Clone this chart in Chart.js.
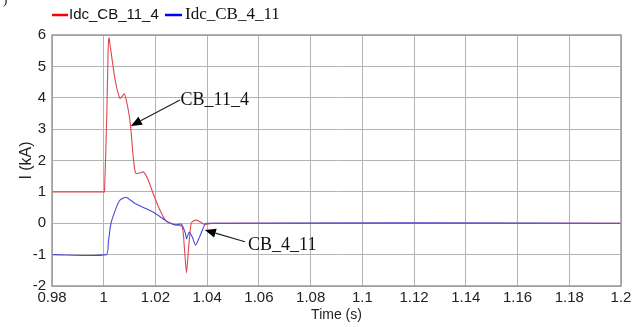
<!DOCTYPE html>
<html>
<head>
<meta charset="utf-8">
<script src="https://cdn.jsdelivr.net/npm/chart.js@4"></script>
<style>
  html, body { margin: 0; padding: 0; background: #fff; }
  #wrap { width: 644px; height: 327px; position: relative; }
</style>
</head>
<body>
<div id="wrap"><canvas id="chart"></canvas></div>
<script>
// Idc_CB_11_4 (red)
const redTime = [0.98, 1.0, 1.0003, 1.0012, 1.0017, 1.002, 1.0026, 1.0044, 1.0063, 1.008, 1.0095, 1.0104, 1.0114, 1.0123, 1.014, 1.0153, 1.0172, 1.0191, 1.0217, 1.0243, 1.0275, 1.0303, 1.0312, 1.032, 1.0328, 1.0338, 1.0348, 1.0358, 1.0372, 1.0385, 1.040, 1.042, 1.2];
const redVal  = [1, 1, 1, 3.5, 5.5, 5.91, 5.6, 4.57, 3.98, 4.12, 3.61, 3.08, 2.12, 1.6, 1.6, 1.64, 1.38, 0.95, 0.42, 0.05, -0.05, -0.1, -0.8, -1.58, -0.8, 0.0, 0.08, 0.1, 0.05, -0.02, -0.03, 0, 0];

// Idc_CB_4_11 (blue)
const blueTime = [0.98, 1.001, 1.0018, 1.0028, 1.005, 1.0063, 1.0086, 1.012, 1.016, 1.0198, 1.0237, 1.0275, 1.030, 1.0315, 1.032, 1.033, 1.0343, 1.0355, 1.037, 1.0385, 1.0396, 1.2];
const blueVal  = [-1, -1, -0.6, 0, 0.53, 0.74, 0.83, 0.64, 0.48, 0.32, 0.1, -0.05, -0.03, -0.3, -0.5, -0.29, -0.45, -0.7, -0.45, -0.15, 0, 0];

const xTicks = [0.98, 1.0, 1.02, 1.04, 1.06, 1.08, 1.1, 1.12, 1.14, 1.16, 1.18, 1.2];
const yTicks = [-2, -1, 0, 1, 2, 3, 4, 5, 6];

const seriesNames = ['Idc_CB_11_4', 'Idc_CB_4_11'];

// annotations: [label, textX, textY, tailX, tailY, tipX, tipY] in data units
const notes = [
    ['CB_11_4', 1.0297, 3.93, 1.0295, 3.93, 1.0105, 3.1],
    ['CB_4_11', 1.0558, -0.69, 1.0546, -0.59, 1.0391, -0.215]
];

const toPts = (ts, vs) => ts.map((t, i) => ({ x: t, y: vs[i] }));

const framePlugin = {
    id: 'frame',
    afterDraw(chart) {
        const ctx = chart.ctx;
        const a = chart.chartArea;
        const xs = chart.scales.x, ys = chart.scales.y;
        ctx.save();
        // frame
        ctx.strokeStyle = '#9a9a9a';
        ctx.lineWidth = 1.5;
        ctx.strokeRect(a.left, a.top, a.right - a.left, a.bottom - a.top);

        // legend
        ctx.lineWidth = 2.5;
        ctx.strokeStyle = '#ff0000';
        ctx.beginPath(); ctx.moveTo(52, 15); ctx.lineTo(68, 15); ctx.stroke();
        ctx.strokeStyle = '#0000ff';
        ctx.beginPath(); ctx.moveTo(165, 15); ctx.lineTo(182, 15); ctx.stroke();
        ctx.fillStyle = '#111';
        ctx.textBaseline = 'middle';
        ctx.textAlign = 'left';
        ctx.font = '15px "Liberation Sans", Arial, sans-serif';
        ctx.fillText(seriesNames[0], 69, 15);
        ctx.font = '17px "Liberation Serif", "Times New Roman", serif';
        ctx.fillText(seriesNames[1], 185, 15);
        ctx.font = '13px "Liberation Serif", serif';
        ctx.fillText(')', 3, 1);

        // annotations
        ctx.font = '18px "Liberation Serif", "Times New Roman", serif';
        notes.forEach(n => {
            const tx = xs.getPixelForValue(n[1]), ty = ys.getPixelForValue(n[2]);
            const x0 = xs.getPixelForValue(n[3]), y0 = ys.getPixelForValue(n[4]);
            const x1 = xs.getPixelForValue(n[5]), y1 = ys.getPixelForValue(n[6]);
            ctx.fillStyle = '#111';
            ctx.fillText(n[0], tx, ty);
            const ang = Math.atan2(y1 - y0, x1 - x0);
            const hl = 11, hw = 4.5;
            const bx = x1 - hl * Math.cos(ang), by = y1 - hl * Math.sin(ang);
            ctx.strokeStyle = '#222';
            ctx.lineWidth = 1.2;
            ctx.beginPath(); ctx.moveTo(x0, y0); ctx.lineTo(bx, by); ctx.stroke();
            ctx.fillStyle = '#000';
            ctx.beginPath();
            ctx.moveTo(x1, y1);
            ctx.lineTo(bx + hw * Math.sin(ang), by - hw * Math.cos(ang));
            ctx.lineTo(bx - hw * Math.sin(ang), by + hw * Math.cos(ang));
            ctx.closePath();
            ctx.fill();
        });
        ctx.restore();
    }
};

const tickFont = { family: '"Liberation Sans", Arial, sans-serif', size: 15 };
const lightGrid = { color: '#b4b4b4', drawTicks: false, lineWidth: 1 };

new Chart(document.getElementById('chart'), {
    type: 'line',
    data: {
        datasets: [{
            label: seriesNames[0],
            data: toPts(redTime, redVal),
            borderColor: '#e0484f',
            borderWidth: 1.1,
            pointRadius: 0,
            tension: 0.2,
            order: 2
        }, {
            label: seriesNames[1],
            data: toPts(blueTime, blueVal),
            borderColor: '#4a4ad6',
            borderWidth: 1.1,
            pointRadius: 0,
            tension: 0.2,
            order: 1
        }]
    },
    options: {
        responsive: true,
        maintainAspectRatio: false,
        animation: false,
        layout: { padding: { top: 35, right: 23, left: 0, bottom: 0 } },
        plugins: {
            legend: { display: false },
            tooltip: { enabled: false }
        },
        scales: {
            x: {
                type: 'linear',
                min: 0.98,
                max: 1.2,
                afterBuildTicks: s => { s.ticks = xTicks.map(v => ({ value: v })); },
                afterFit: s => { s.height = 41; },
                ticks: {
                    color: '#222',
                    font: tickFont,
                    padding: 3,
                    maxRotation: 0,
                    callback: v => String(Number(v.toFixed(2)))
                },
                grid: lightGrid,
                border: { display: false },
                title: { display: true, text: 'Time (s)', color: '#222', font: { family: tickFont.family, size: 14 }, padding: { top: 0, bottom: 3 } }
            },
            y: {
                min: -2,
                max: 6,
                afterBuildTicks: s => { s.ticks = yTicks.map(v => ({ value: v })); },
                afterFit: s => { s.width = 52; },
                ticks: { color: '#222', font: tickFont, padding: 6 },
                grid: lightGrid,
                border: { display: false },
                title: { display: true, text: 'I (kA)', color: '#222', font: { family: tickFont.family, size: 16 }, padding: { top: 17, bottom: 0 } }
            }
        }
    },
    plugins: [framePlugin]
});
</script>
</body>
</html>
